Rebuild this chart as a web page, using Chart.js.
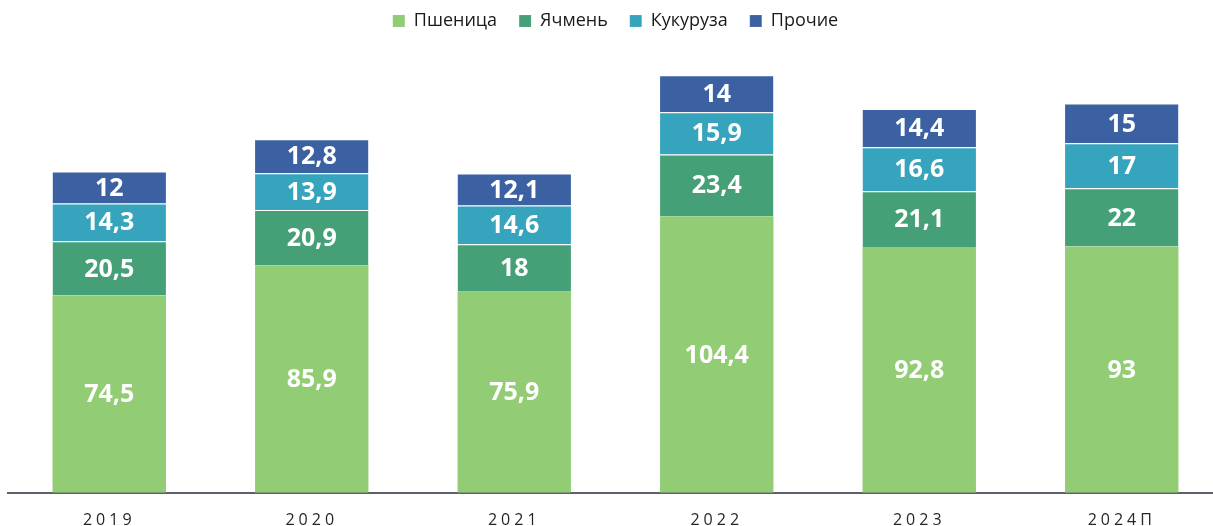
<!DOCTYPE html>
<html>
<head>
<meta charset="utf-8">
<script src="https://cdn.jsdelivr.net/npm/chart.js@4.4.1/dist/chart.umd.min.js"></script>
<style>
  html, body { margin: 0; padding: 0; background: #fff; overflow: hidden; }
  #wrap { width: 1223px; height: 572px; position: relative; top: -10px; }
</style>
</head>
<body>
<div id="wrap"><canvas id="c"></canvas></div>
<script>
// данные с картинки
const years = ['2019', '2020', '2021', '2022', '2023', '2024П'];
const wheat = [74.5, 85.9, 75.9, 104.4, 92.8, 93];
const barley = [20.5, 20.9, 18, 23.4, 21.1, 22];
const corn = [14.3, 13.9, 14.6, 15.9, 16.6, 17];
const other = [12, 12.8, 12.1, 14, 14.4, 15];

const seriesNames = ['Пшеница', 'Ячмень', 'Кукуруза', 'Прочие'];
const seriesColors = ['#92cc74', '#45a077', '#36a4bc', '#3b61a3'];

// подписи значений внутри сегментов
const valueLabels = {
  id: 'valueLabels',
  afterDatasetsDraw(chart) {
    const ctx = chart.ctx;
    ctx.save();
    ctx.font = 'bold 25px "Open Sans"';
    ctx.fillStyle = '#ffffff';
    ctx.textAlign = 'center';
    ctx.textBaseline = 'middle';
    chart.data.datasets.forEach((ds, i) => {
      const meta = chart.getDatasetMeta(i);
      meta.data.forEach((bar, j) => {
        const p = bar.getProps(['x', 'y', 'base'], true);
        const txt = String(ds.data[j]).replace('.', ',');
        ctx.fillText(txt, p.x, (p.y + p.base) / 2 + 1);
      });
    });
    ctx.restore();
  }
};

// разрядка подписей оси X
const tickSpacing = {
  id: 'tickSpacing',
  beforeDraw(chart) {
    const sc = chart.scales.x;
    if (sc && !sc._spaced) {
      const orig = sc.drawLabels;
      sc.drawLabels = function(area) {
        this.ctx.save();
        this.ctx.letterSpacing = '4px';
        orig.call(this, area);
        this.ctx.restore();
      };
      sc._spaced = true;
    }
  }
};

const datasets = [wheat, barley, corn, other].map((d, i) => ({
  label: seriesNames[i],
  data: d,
  backgroundColor: seriesColors[i],
  borderColor: 'rgba(255,255,255,0.5)',
  borderWidth: { top: i === 0 ? 0 : 1, left: 0, right: 0, bottom: 0 },
  borderSkipped: false,
  barPercentage: 0.56,
  categoryPercentage: 1
}));

new Chart(document.getElementById('c'), {
  type: 'bar',
  data: { labels: years, datasets: datasets },
  plugins: [valueLabels, tickSpacing],
  options: {
    responsive: true,
    maintainAspectRatio: false,
    animation: false,
    layout: { padding: { left: 8, right: 0, top: 0, bottom: 14 } },
    plugins: {
      legend: {
        position: 'top',
        labels: {
          font: { family: '"Open Sans"', size: 18 },
          color: '#1a1a1a',
          boxWidth: 12,
          boxHeight: 12,
          padding: 22
        }
      },
      tooltip: { enabled: false }
    },
    scales: {
      x: {
        stacked: true,
        grid: { display: false, drawTicks: false },
        border: { display: true, color: '#5b6168', width: 2 },
        ticks: {
          font: { family: '"Open Sans"', size: 16 },
          color: '#262626',
          padding: 18
        }
      },
      y: {
        stacked: true,
        display: false,
        min: 0,
        max: 171
      }
    }
  }
});
</script>
</body>
</html>
